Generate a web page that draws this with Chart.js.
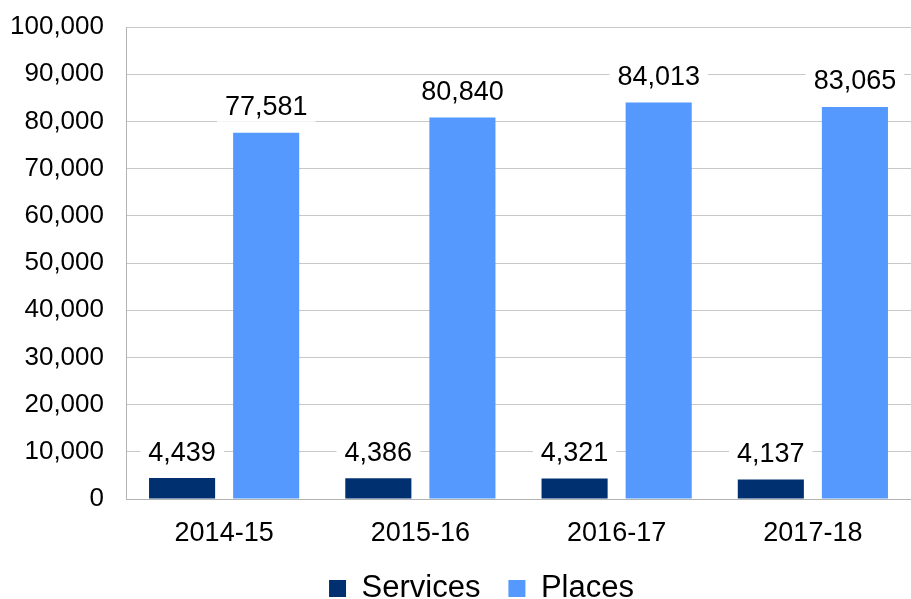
<!DOCTYPE html>
<html>
<head>
<meta charset="utf-8">
<script src="https://cdn.jsdelivr.net/npm/chart.js@4"></script>
<style>
    html, body { margin: 0; padding: 0; background: #fff; }
    #wrap { width: 911px; height: 599px; position: relative; }
</style>
</head>
<body>
<div id="wrap"><canvas id="placesChart"></canvas></div>
<script>
const years = ['2014-15', '2015-16', '2016-17', '2017-18'];
const services = [4439, 4386, 4321, 4137];
const places = [77581, 80840, 84013, 83065];
const yTicks = [0, 10000, 20000, 30000, 40000, 50000, 60000, 70000, 80000, 90000, 100000];

const FONT = '"Liberation Sans", Arial, sans-serif';

// small layout tweaks + value labels with a white box behind them
const valueLabels = {
    id: 'valueLabels',
    beforeLayout(chart) {
        const lg = chart.legend;
        if (lg && !lg._trimmed) {
            const fit = lg.fit;
            lg.fit = function() {
                fit.call(this);
                this.height -= 15;
            };
            lg._trimmed = true;
        }
    },
    afterLayout(chart) {
        // legend sits a bit right of centre in the original
        chart.legend.left += 26;
        chart.legend.right += 26;
    },
    afterDatasetsDraw(chart) {
        const ctx = chart.ctx;
        ctx.save();
        ctx.font = '27px ' + FONT;
        ctx.textAlign = 'center';
        ctx.textBaseline = 'middle';
        chart.data.datasets.forEach((ds, i) => {
            const meta = chart.getDatasetMeta(i);
            meta.data.forEach((bar, j) => {
                const txt = ds.data[j].toLocaleString('en-US');
                const y = bar.y - 25;
                const w = ctx.measureText(txt).width;
                ctx.fillStyle = '#ffffff';
                ctx.fillRect(bar.x - w / 2 - 8, y - 14, w + 16, 28);
                ctx.fillStyle = '#000000';
                ctx.fillText(txt, bar.x, y);
            });
        });
        ctx.restore();
    }
};

new Chart(document.getElementById('placesChart'), {
    type: 'bar',
    data: {
        labels: years,
        datasets: [
            {
                label: 'Services',
                data: services,
                backgroundColor: '#003070',
                borderWidth: 0
            },
            {
                label: 'Places',
                data: places,
                backgroundColor: '#5599ff',
                borderWidth: 0
            }
        ]
    },
    options: {
        responsive: true,
        maintainAspectRatio: false,
        animation: false,
        layout: { padding: { top: 27, right: 0, bottom: 0, left: 0 } },
        categoryPercentage: 0.857,
        barPercentage: 0.786,
        scales: {
            x: {
                afterFit(axis) { axis.height = 46; axis.paddingLeft = 0; axis.paddingRight = 0; },
                grid: { display: false, drawTicks: false },
                border: { color: '#b3b3b3' },
                ticks: { color: '#000', font: { family: FONT, size: 27 }, padding: 18 }
            },
            y: {
                min: 0,
                max: 100000,
                afterBuildTicks(axis) {
                    axis.ticks = yTicks.map(v => ({ value: v }));
                },
                afterFit(axis) {
                    axis.width = 126;
                    axis.paddingTop = 0;
                    axis.paddingBottom = 0;
                },
                grid: { color: '#c8c8c8', drawTicks: false },
                border: { color: '#b3b3b3' },
                ticks: {
                    color: '#000',
                    font: { family: FONT, size: 26 },
                    padding: 22,
                    callback: v => v.toLocaleString('en-US')
                }
            }
        },
        plugins: {
            legend: {
                position: 'bottom',
                labels: {
                    color: '#000',
                    font: { family: FONT, size: 31 },
                    boxWidth: 17,
                    boxHeight: 17,
                    padding: 28
                }
            },
            tooltip: { enabled: false }
        }
    },
    plugins: [valueLabels]
});
</script>
</body>
</html>
